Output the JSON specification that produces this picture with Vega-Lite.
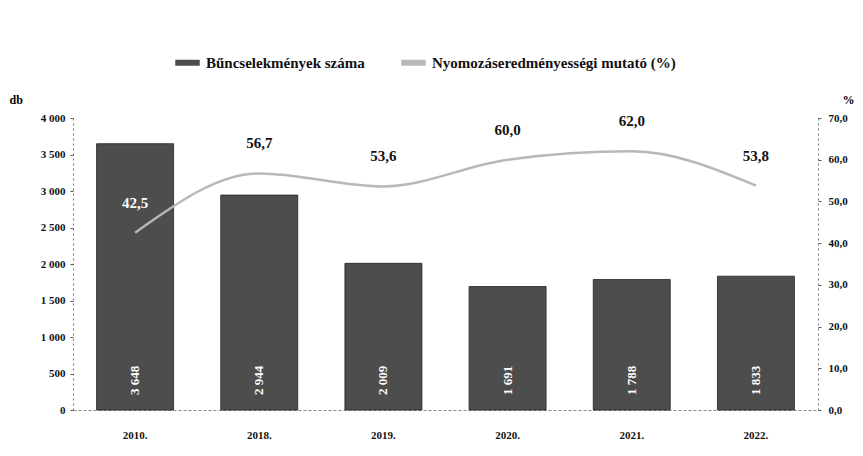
{
  "$schema": "https://vega.github.io/schema/vega-lite/v6.json",
  "width": 745,
  "height": 292,
  "autosize": {"type": "none"},
  "padding": {"left": 73, "top": 118, "right": 45, "bottom": 46},
  "background": "white",
  "config": {
    "locale": {"number": {"decimal": ",", "thousands": " ", "grouping": [3], "currency": ["", ""]}},
    "font": "Liberation Serif",
    "view": {"stroke": null},
    "axis": {"labelFont": "Liberation Serif", "labelFontWeight": "bold", "labelColor": "#111", "titleFont": "Liberation Serif", "titleFontWeight": "bold", "grid": false, "labelOverlap": false}
  },
  "data": {
    "values": [
      {"year": "2010.", "count": 3648, "pct": 42.5},
      {"year": "2018.", "count": 2944, "pct": 56.7},
      {"year": "2019.", "count": 2009, "pct": 53.6},
      {"year": "2020.", "count": 1691, "pct": 60.0},
      {"year": "2021.", "count": 1788, "pct": 62.0},
      {"year": "2022.", "count": 1833, "pct": 53.8}
    ]
  },
  "encoding": {
    "x": {
      "field": "year", "type": "nominal", "sort": null,
      "scale": {"paddingInner": 0.38, "paddingOuter": 0.19},
      "axis": {"title": null, "labelAngle": 0, "ticks": false, "labelPadding": 19, "labelFontSize": 11, "domainColor": "#888", "domainDash": [3, 2]}
    }
  },
  "layer": [
    {
      "layer": [
        {
          "mark": {"type": "bar", "stroke": "#222", "strokeWidth": 0.8},
          "encoding": {
            "y": {
              "field": "count", "type": "quantitative",
              "scale": {"domain": [0, 4000]},
              "axis": {"values": [0, 500, 1000, 1500, 2000, 2500, 3000, 3500, 4000], "format": ",d", "title": "db", "titleAngle": 0, "titleX": -64, "titleY": -12, "titleAlign": "left", "titleFontSize": 12, "labelFontSize": 11, "tickSize": 3, "labelPadding": 5, "domainColor": "#777", "domainDash": [2, 3], "tickColor": "#555"}
            },
            "color": {
              "datum": "Bűncselekmények száma",
              "type": "nominal",
              "scale": {"domain": ["Bűncselekmények száma", "Nyomozáseredményességi mutató (%)"], "range": ["#4d4d4d", "#b8b8b8"]},
              "legend": {"title": null, "orient": "none", "direction": "horizontal", "legendX": 99, "legendY": -71, "symbolType": "stroke", "symbolStrokeWidth": 6, "symbolSize": 600, "labelOffset": 3, "labelFont": "Liberation Serif", "labelFontWeight": "bold", "labelFontSize": 15, "labelColor": "#111", "columnPadding": 24, "labelLimit": 400}
            }
          }
        },
        {
          "mark": {"type": "text", "angle": 270, "align": "left", "baseline": "middle", "dx": 15, "color": "white", "fontWeight": "bold", "fontSize": 13, "font": "Liberation Serif"},
          "encoding": {
            "y": {
              "datum": 0, "type": "quantitative",
              "scale": {"domain": [0, 4000]},
              "axis": {"values": [0, 500, 1000, 1500, 2000, 2500, 3000, 3500, 4000], "format": ",d", "title": "db", "titleAngle": 0, "titleX": -64, "titleY": -12, "titleAlign": "left", "titleFontSize": 12, "labelFontSize": 11, "tickSize": 3, "labelPadding": 5, "domainColor": "#777", "domainDash": [2, 3], "tickColor": "#555"}
            },
            "text": {"field": "count", "type": "quantitative", "format": ",d"}
          }
        }
      ]
    },
    {
      "layer": [
        {
          "mark": {"type": "line", "interpolate": "monotone", "strokeWidth": 2.5},
          "encoding": {
            "y": {
              "field": "pct", "type": "quantitative",
              "scale": {"domain": [0, 70]},
              "axis": {"orient": "right", "values": [0, 10, 20, 30, 40, 50, 60, 70], "format": ".1f", "title": "%", "titleAngle": 0, "titleX": 24, "titleY": -12, "titleAlign": "left", "titleFontSize": 12, "labelFontSize": 11, "tickSize": 3, "labelPadding": 7, "domainColor": "#777", "domainDash": [2, 3], "tickColor": "#555"}
            },
            "color": {"datum": "Nyomozáseredményességi mutató (%)", "type": "nominal"}
          }
        },
        {
          "mark": {"type": "text", "dy": -30, "fontWeight": "bold", "fontSize": 15, "font": "Liberation Serif"},
          "encoding": {
            "y": {"field": "pct", "type": "quantitative"},
            "text": {"field": "pct", "type": "quantitative", "format": ".1f"},
            "color": {"condition": {"test": "datum.year === '2010.'", "value": "white"}, "value": "#111"}
          }
        }
      ]
    }
  ],
  "resolve": {"scale": {"y": "independent"}}
}
